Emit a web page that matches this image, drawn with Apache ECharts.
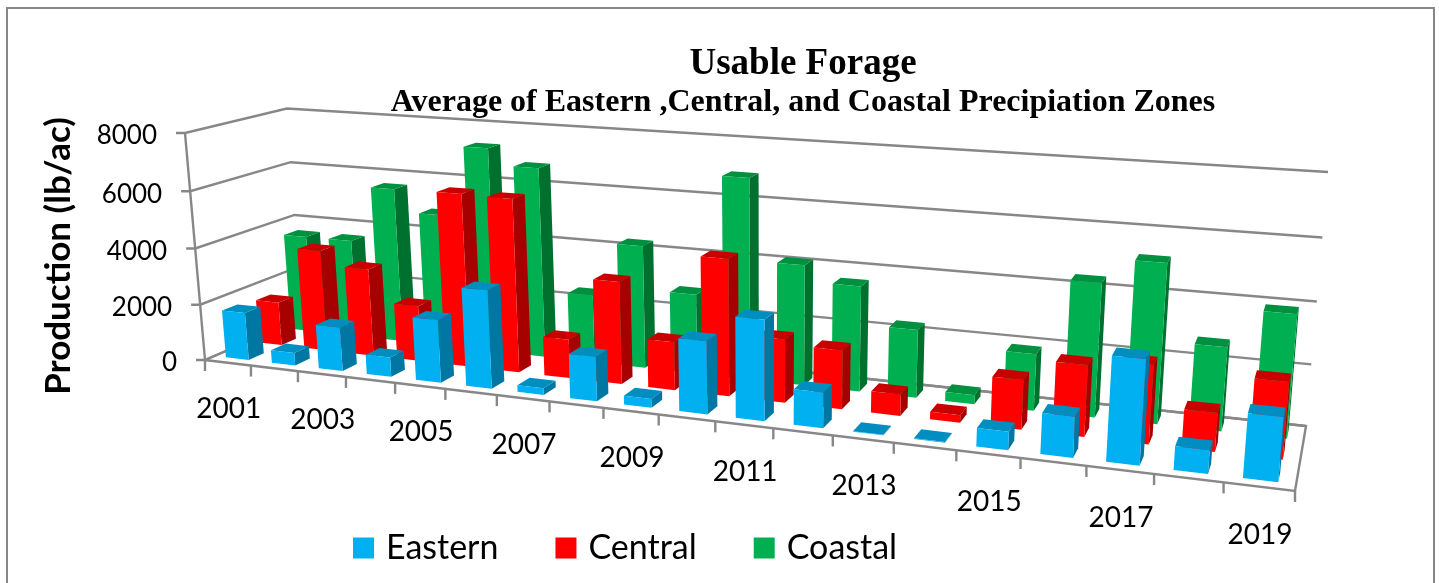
<!DOCTYPE html>
<html>
<head>
<meta charset="utf-8">
<style>
html,body{margin:0;padding:0;background:#fff;}
#chart{width:1439px;height:583px;}
</style>
<script src="https://cdn.jsdelivr.net/npm/echarts@6/dist/echarts.min.js"></script>
</head>
<body>
<div id="chart"></div>
<script>
const years = ['2001','2002','2003','2004','2005','2006','2007','2008','2009','2010','2011','2012','2013','2014','2015','2016','2017','2018','2019'];
const yearLabels = ['2001','2003','2005','2007','2009','2011','2013','2015','2017','2019'];
const yTicks = [0,2000,4000,6000,8000];
const eastern = [1700,450,1550,680,2180,3370,230,1500,300,2410,3300,1160,20,20,580,1280,3240,720,1950];
const central = [1580,3630,3130,1980,6070,6030,1350,3520,1650,4620,2130,1960,710,250,1610,2290,2500,1220,2390];
const coastal = [3570,3570,5600,4800,7300,6730,2400,4300,2780,6900,4120,3580,2300,300,1880,4370,5170,2700,3920];

// the 3D box on screen: floor corners and two top corners
const A=[205,360], B=[1295,491], C=[302,318], D=[1306,426], E=[185,133], G=[1328,172];

// camera matrix built from the corners
const sx=A[0]-B[0]+D[0]-C[0], sy=A[1]-B[1]+D[1]-C[1];
const dx1=B[0]-D[0], dx2=C[0]-D[0], dy1=B[1]-D[1], dy2=C[1]-D[1];
const den=dx1*dy2-dx2*dy1;
const gg=(sx*dy2-dx2*sy)/den, hh=(dx1*sy-sx*dy1)/den;
const p1=[B[0]-A[0]+gg*B[0], B[1]-A[1]+gg*B[1], gg];
const p2=[C[0]-A[0]+hh*C[0], C[1]-A[1]+hh*C[1], hh];
const p4=[A[0],A[1],1];
const s3=((p1[2]+p2[2])*G[0]-(p1[0]+p2[0]))/(E[0]-G[0]);
const p3=[s3*E[0]-p4[0], s3*E[1]-p4[1], s3-p4[2]];

function camera(u,v,w){
    const n=i=>p1[i]*u+p2[i]*v+p3[i]*w+p4[i];
    return [n(0)/n(2), n(1)/n(2)];
}
// small height correction so the top right corner lands on G
const topFix=G[1]-camera(1,1,1)[1];
function project(u,v,w){
    const q=camera(u,v,w);
    return [q[0], q[1]+topFix*u*w];
}

const GRAY='#878787';
const barWidth=0.5, barDepth=0.45;  // share of the band and of the row

function toUnit(params,api,cat,val){
    const cs=params.coordSys, pt=api.coord([cat,val]);
    return [(pt[0]-cs.x)/cs.width, (cs.y+cs.height-pt[1])/cs.height];
}

function barRender(row,colors){
    return function(params,api){
        const p=toUnit(params,api,api.value(0),api.value(1));
        const band=api.size([1,0])[0]/params.coordSys.width;
        const u0=p[0]-band*barWidth/2, u1=p[0]+band*barWidth/2;
        const v0=(row+0.5-barDepth/2)/3, v1=(row+0.5+barDepth/2)/3;
        const w=p[1];
        const poly=(pts,fill)=>({type:'polygon',shape:{points:pts},style:{fill:fill,stroke:null}});
        return {type:'group',children:[
            poly([project(u1,v0,0),project(u1,v1,0),project(u1,v1,w),project(u1,v0,w)],colors.side),
            poly([project(u0,v0,w),project(u1,v0,w),project(u1,v1,w),project(u0,v1,w)],colors.top),
            poly([project(u0,v0,0),project(u1,v0,0),project(u1,v0,w),project(u0,v0,w)],colors.front)
        ]};
    };
}

function barSeries(name,row,values,colors){
    return {
        name:name,type:'custom',coordinateSystem:'cartesian2d',
        itemStyle:{color:colors.front},
        z:5-row,
        encode:{x:0,y:1},
        data:values.map((v,i)=>[i,v]),
        renderItem:barRender(row,colors),
        animation:false,silent:true
    };
}

const lineStyle={stroke:GRAY,lineWidth:2.4,fill:null};

// back walls, gridlines and value labels
const wallSeries={
    type:'custom',coordinateSystem:'cartesian2d',z:1,silent:true,animation:false,
    encode:{x:0,y:1},
    data:yTicks.map(v=>[0,v]),
    renderItem:function(params,api){
        const w=toUnit(params,api,0,api.value(1))[1];
        const a=project(0,0,w), b=project(0,1,w), c=project(1,1,w);
        return {type:'group',children:[
            {type:'polyline',shape:{points:[[a[0]-9,a[1]],a,b,c]},style:lineStyle},
            {type:'text',style:{x:a[0]-28,y:a[1]+3,text:String(api.value(1)),fill:'#000',
                font:'26px Lato',align:'right',verticalAlign:'middle'}}
        ]};
    }
};

// side edge and floor outline
const frameSeries={
    type:'custom',coordinateSystem:'cartesian2d',z:2,silent:true,animation:false,
    encode:{x:0,y:1},
    data:[[0,0]],
    renderItem:function(){
        return {type:'group',children:[
            {type:'polyline',shape:{points:[project(0,0,1),project(0,0,0)]},style:lineStyle},
            {type:'polyline',shape:{points:[project(0,1,0),project(1,1,0),project(1,0,0),project(0,0,0),project(0,1,0)]},style:lineStyle}
        ]};
    }
};

// category ticks along the front edge (one more than the bands)
const tickSeries={
    type:'custom',coordinateSystem:'cartesian2d',z:2,silent:true,animation:false,
    encode:{x:0,y:1},
    data:years.concat(['end']).map((y,i)=>[i,0]),
    renderItem:function(params,api){
        const cs=params.coordSys;
        const band=api.size([1,0])[0];
        const x=api.coord([0,0])[0]-band/2+band*api.value(0);
        const f=project((x-cs.x)/cs.width,0,0);
        return {type:'line',shape:{x1:f[0],y1:f[1],x2:f[0],y2:f[1]+11},style:lineStyle};
    }
};

// every other year below the front edge
const yearSeries={
    type:'custom',coordinateSystem:'cartesian2d',z:2,silent:true,animation:false,
    encode:{x:0,y:1},
    data:yearLabels.map(y=>[years.indexOf(y),0]),
    renderItem:function(params,api){
        const u=toUnit(params,api,api.value(0),0)[0];
        const f=project(u,0,0);
        return {type:'text',style:{x:f[0]+1,y:f[1]+46+2*u,text:years[api.value(0)],fill:'#000',
            font:'28px Lato',align:'center',verticalAlign:'middle'}};
    }
};

const chart=echarts.init(document.getElementById('chart'));
chart.setOption({
    animation:false,
    backgroundColor:'#fff',
    title:[
        {text:'Usable Forage',left:798,top:41,textAlign:'center',
            textStyle:{fontFamily:'Liberation Serif',fontWeight:'bold',fontSize:37,color:'#000'}},
        {text:'Average of Eastern ,Central, and Coastal Precipiation Zones',left:798,top:82,textAlign:'center',
            textStyle:{fontFamily:'Liberation Serif',fontWeight:'bold',fontSize:32,color:'#000'}}
    ],
    legend:{
        left:348,top:526,icon:'rect',itemWidth:21,itemHeight:21,itemGap:57,
        data:['Eastern','Central','Coastal'],
        selectedMode:false,
        textStyle:{fontFamily:'Lato',fontSize:34,color:'#000',padding:[0,0,0,7]}
    },
    grid:{left:205,right:144,top:133,bottom:204},
    xAxis:{type:'category',data:years,show:false},
    yAxis:{
        type:'value',min:0,max:8000,interval:2000,
        name:'Production (lb/ac)',nameLocation:'middle',nameGap:129,
        nameTextStyle:{fontFamily:'Lato',fontWeight:'bold',fontSize:35,color:'#000'},
        axisLine:{show:false},axisTick:{show:false},axisLabel:{show:false},splitLine:{show:false}
    },
    graphic:[{type:'rect',shape:{x:7,y:8,width:1427,height:600},style:{fill:null,stroke:GRAY,lineWidth:2},silent:true}],
    series:[
        wallSeries,frameSeries,tickSeries,yearSeries,
        barSeries('Coastal',2,coastal,{front:'#00B050',side:'#00702F',top:'#009040'}),
        barSeries('Central',1,central,{front:'#FF0000',side:'#A60000',top:'#C80000'}),
        barSeries('Eastern',0,eastern,{front:'#00B0F0',side:'#0076A3',top:'#008DC0'})
    ]
});
</script>
</body>
</html>
